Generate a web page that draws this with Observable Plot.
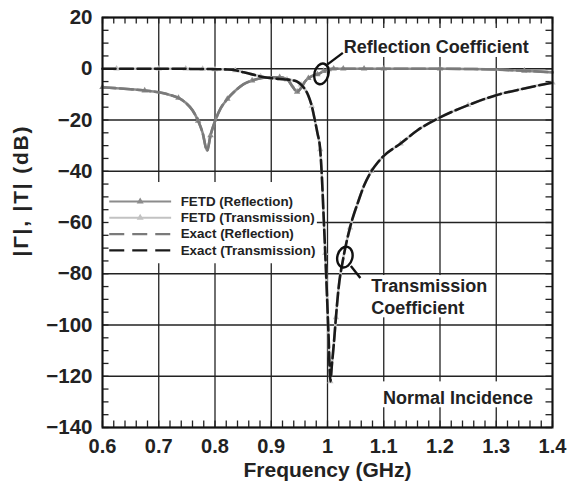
<!DOCTYPE html>
<html>
<head>
<meta charset="utf-8">
<script src="https://cdn.jsdelivr.net/npm/d3@7"></script>
<script src="https://cdn.jsdelivr.net/npm/@observablehq/plot@0.6"></script>
<style>
  body { margin: 0; background: #fff; }
  #chart svg { display: block; }
</style>
</head>
<body>
<div id="chart"></div>
<script>
// Frequency samples (GHz) and the magnitude of reflection / transmission (dB)
const freq = [0.600, 0.625, 0.650, 0.675, 0.700, 0.720, 0.735, 0.748, 0.760, 0.770,
              0.778, 0.786, 0.792, 0.800, 0.810, 0.822, 0.836, 0.851, 0.866, 0.881,
              0.900, 0.915, 0.928, 0.938, 0.946, 0.953, 0.960, 0.966, 0.972, 0.977,
              0.982, 0.987, 0.990, 0.993, 0.996, 0.999, 1.002, 1.005, 1.008, 1.011,
              1.015, 1.020, 1.028, 1.040, 1.055, 1.065, 1.078, 1.090, 1.100, 1.130,
              1.160, 1.200, 1.250, 1.300, 1.350, 1.400];
const reflDb = [-7.2, -7.6, -8.0, -8.5, -9.2, -10.2, -11.4, -13.3, -16.2, -20.3,
                -25.0, -32.0, -26.0, -20.5, -15.5, -11.8, -8.6, -6.0, -4.6, -3.7,
                -3.3, -3.3, -4.0, -7.0, -9.0, -7.5, -5.0, -3.7, -2.9, -2.4,
                -2.2, -1.7, -1.3, -0.9, -0.6, -0.4, -0.2, -0.1, 0, 0,
                0, 0, 0, 0, 0, 0, 0, 0, 0, 0,
                0, 0, -0.1, -0.3, -0.8, -1.4];
const transDb = [0, 0, 0, 0, 0, 0, 0, 0, -0.1, -0.1,
                 -0.1, -0.1, -0.1, -0.2, -0.2, -0.3, -0.6, -1.4, -2.2, -3.0,
                 -3.7, -4.0, -4.2, -4.5, -5.0, -6.2, -8.0, -10.5, -14.5, -19.5,
                 -25.0, -31.5, -42, -57, -72, -88, -105, -122, -115, -108,
                 -97, -85, -74, -62, -51.6, -45.6, -40, -36.4, -34, -29.2,
                 -24.0, -19.0, -14.2, -10.3, -7.7, -5.4];

// Axis ticks
const xTicks = [0.6, 0.7, 0.8, 0.9, 1, 1.1, 1.2, 1.3, 1.4];
const yTicks = [20, 0, -20, -40, -60, -80, -100, -120, -140];
const xMinor = d3.range(0, 41).map(i => +(0.6 + i * 0.02).toFixed(2));
const yMinor = d3.range(0, 33).map(i => -140 + i * 5);

// Text
const xTitle = "Frequency (GHz)";
const yTitle = "|Γ|, |T| (dB)";
const seriesNames = ["FETD (Reflection)", "FETD (Transmission)", "Exact (Reflection)", "Exact (Transmission)"];

const rows = freq.map((f, i) => ({f, refl: reflDb[i], trans: transDb[i]}));

// Layout
const W = 567, H = 494, mL = 102, mR = 15, mT = 17, mB = 67;
const plotW = W - mL - mR, plotH = H - mT - mB;
const tickLen = 6.5;
const font = "'Liberation Sans', Arial, Helvetica, sans-serif";
const ink = "#222";

const cReflFetd = "#8c8c8c", cTransFetd = "#c2c2c2", cReflExact = "#7a7a7a", cTransExact = "#1a1a1a";
const curveDash = "13,4.5";
const markerEvery = 3; // FETD markers on every third sample

// Ellipse outline used to circle a curve; tilted a little clockwise
function ellipseSymbol(rx, ry, tiltDeg) {
  const t = tiltDeg * Math.PI / 180, c = Math.cos(t), s = Math.sin(t), k = 0.5523;
  const p = (x, y) => [x * c - y * s, x * s + y * c];
  return {
    draw(ctx) {
      ctx.moveTo(...p(rx, 0));
      ctx.bezierCurveTo(...p(rx, k * ry), ...p(k * rx, ry), ...p(0, ry));
      ctx.bezierCurveTo(...p(-k * rx, ry), ...p(-rx, k * ry), ...p(-rx, 0));
      ctx.bezierCurveTo(...p(-rx, -k * ry), ...p(-k * rx, -ry), ...p(0, -ry));
      ctx.bezierCurveTo(...p(k * rx, -ry), ...p(rx, -k * ry), ...p(rx, 0));
      ctx.closePath();
    }
  };
}

// Callouts, white label boxes and labels (data coordinates)
const callouts = [
  {f: 0.9892, db: -2.0, rx: 7, ry: 10.5},
  {f: 1.0309, db: -73.5, rx: 7.5, ry: 10.5}
];
const leaders = [
  {x1: 1.0, y1: 1.7, x2: 1.0273, y2: 6.2},
  {x1: 1.0415, y1: -77.0, x2: 1.0584, y2: -81.7}
];
const boxes = [
  {x1: 0.6, x2: 0.982, y1: -44.4, y2: -76.1},
  {x1: 1.0158, x2: 1.3726, y1: 15.7, y2: 4.4},
  {x1: 1.0707, x2: 1.294, y1: -80.7, y2: -97.2},
  {x1: 1.0908, x2: 1.3801, y1: -122.2, y2: -132.3}
];
const notes = [
  {text: "Reflection Coefficient", f: 1.0289, db: 8.9},
  {text: "Transmission\nCoefficient", f: 1.0779, db: -88.75},
  {text: "Normal Incidence", f: 1.0987, db: -128.1}
];

// Legend rows
const legendStyles = [
  {color: cReflFetd, dash: null, marker: true},
  {color: cTransFetd, dash: null, marker: true},
  {color: cReflExact, dash: "15,8", marker: false},
  {color: cTransExact, dash: "15,8", marker: false}
];
const lgX1 = 0.612, lgX2 = 0.722, lgXm = 0.667, lgXt = 0.739, lgTop = -51.8, lgStep = 6.35;
const legendMarks = seriesNames.flatMap((name, i) => {
  const st = legendStyles[i];
  const row = [{name, y: lgTop - i * lgStep}];
  const m = [
    Plot.link(row, {x1: () => lgX1, x2: () => lgX2, y1: "y", y2: "y",
      stroke: st.color, strokeWidth: 2.2, strokeDasharray: st.dash})
  ];
  if (st.marker) m.push(Plot.dot(row, {x: () => lgXm, y: "y", symbol: "triangle", r: 2.6, fill: st.color}));
  m.push(Plot.text(row, {x: () => lgXt, y: "y", text: "name", textAnchor: "start",
    fontSize: 13.4, fontWeight: "bold", fill: ink}));
  return m;
});

const chart = Plot.plot({
  width: W, height: H,
  marginLeft: mL, marginRight: mR, marginTop: mT, marginBottom: mB,
  x: {domain: [0.6, 1.4]},
  y: {domain: [-140, 20]},
  style: {fontFamily: font, fontWeight: "bold", background: "#fff", color: ink},
  marks: [
    Plot.gridX(xTicks, {stroke: ink, strokeOpacity: 1, strokeWidth: 1.3}),
    Plot.gridY(yTicks, {stroke: ink, strokeOpacity: 1, strokeWidth: 1.3}),
    Plot.rect(boxes, {x1: "x1", x2: "x2", y1: "y1", y2: "y2", fill: "#fff"}),

    // inward minor ticks on all four sides
    Plot.tickX(xMinor, {x: d => d, insetTop: plotH - tickLen, stroke: ink, strokeWidth: 1.3}),
    Plot.tickX(xMinor, {x: d => d, insetBottom: plotH - tickLen, stroke: ink, strokeWidth: 1.3}),
    Plot.tickY(yMinor, {y: d => d, insetRight: plotW - tickLen, stroke: ink, strokeWidth: 1.3}),
    Plot.tickY(yMinor, {y: d => d, insetLeft: plotW - tickLen, stroke: ink, strokeWidth: 1.3}),

    Plot.axisX({ticks: xTicks, tickSize: 0, tickPadding: 11, tickFormat: d => String(d),
      fontSize: 20, fontWeight: "bold", label: null}),
    Plot.axisY({ticks: yTicks, tickSize: 0, tickPadding: 10,
      tickFormat: d => d < 0 ? "\u2212" + (-d) : String(d),
      fontSize: 20.5, fontWeight: "bold", label: null}),

    // FETD curves (solid with triangle markers), then exact solutions (dashed) on top
    Plot.line(rows, {x: "f", y: "trans", stroke: cTransFetd, strokeWidth: 2.6, curve: "monotone-x"}),
    Plot.line(rows, {x: "f", y: "refl", stroke: cReflFetd, strokeWidth: 2.6, curve: "monotone-x"}),
    Plot.dot(rows, {x: "f", y: "refl", symbol: "triangle", r: 2.4, fill: cReflFetd,
      filter: (d, i) => i % markerEvery === 0}),
    Plot.dot(rows, {x: "f", y: "trans", symbol: "triangle", r: 2.4, fill: cTransFetd,
      filter: (d, i) => i % markerEvery === 1}),
    Plot.line(rows, {x: "f", y: "refl", stroke: cReflExact, strokeWidth: 2.6, strokeDasharray: curveDash, curve: "monotone-x"}),
    Plot.line(rows, {x: "f", y: "trans", stroke: cTransExact, strokeWidth: 2.6, strokeDasharray: curveDash, curve: "monotone-x"}),

    Plot.frame({stroke: "#111", strokeWidth: 2}),

    // callouts
    ...callouts.map(c => Plot.dot([c], {x: "f", y: "db", symbol: ellipseSymbol(c.rx, c.ry, 15),
      fill: "none", stroke: "#111", strokeWidth: 2.4})),
    Plot.link(leaders, {x1: "x1", y1: "y1", x2: "x2", y2: "y2", stroke: "#111", strokeWidth: 2.4}),
    Plot.text(notes, {x: "f", y: "db", text: "text", textAnchor: "start", fontSize: 18,
      fontWeight: "bold", lineHeight: 1.24, fill: ink}),

    ...legendMarks,

    // axis titles
    Plot.text([xTitle], {frameAnchor: "bottom", dy: 49, fontSize: 21, fontWeight: "bold", fill: ink}),
    Plot.text([yTitle], {frameAnchor: "left", dx: -81, dy: 34, rotate: -90, fontSize: 21,
      fontWeight: "bold", fill: ink})
  ]
});

d3.select(chart).selectAll("text")
  .filter(function() { return this.textContent === yTitle; })
  .attr("letter-spacing", "1.8px");

document.getElementById("chart").appendChild(chart);
</script>
</body>
</html>
